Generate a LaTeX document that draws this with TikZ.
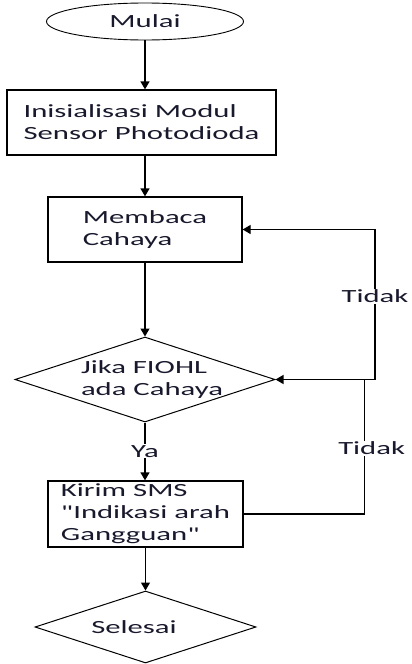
\documentclass[tikz,border=0pt]{standalone}
\usepackage{fontspec}
\setmainfont{Carlito}[FakeStretch=1.65,Ligatures=TeXOff]
\usepackage{xcolor}
\usetikzlibrary{arrows.meta,shapes.geometric}
\definecolor{teks}{RGB}{25,25,45}

\begin{document}
\begin{tikzpicture}[x=1pt,y=-1pt,
  every node/.style={font=\fontsize{18.6}{22}\selectfont,text=teks},
  terminal/.style={ellipse,draw,line width=0.9pt,minimum width=197pt,minimum height=37pt,inner sep=0pt},
  proses/.style={rectangle,draw,line width=1.3pt,align=left,minimum height=65pt,inner sep=0pt},
  keputusan/.style={diamond,draw,line width=1pt,inner sep=0pt},
  alir/.style={line width=1.3pt,-{Triangle[length=8pt,width=9pt]}},
  garis/.style={line width=1.3pt},
  ket/.style={fill=white,inner sep=1pt}]
  \useasboundingbox (0,0) rectangle (412,664);
  % urutan proses
  \node[terminal] (mulai) at (145,21.5) {Mulai};
  \node[proses,minimum width=269pt] (init) at (141.5,122.5) {Inisialisasi Modul\\Sensor Photodioda};
  \node[proses,minimum width=194pt] (baca) at (145,229.5) {Membaca\\Cahaya};
  \node[keputusan,minimum width=260pt,minimum height=85pt,
    label={[xshift=7pt,align=left]center:Jika FIOHL\\ada Cahaya}] (cek) at (145,379.5) {};
  \node[proses,minimum width=195pt,minimum height=66pt] (kirim) at (145.5,514) {Kirim SMS\\"Indikasi arah\\Gangguan"};
  \node[keputusan,minimum width=221pt,minimum height=72pt,
    label={[xshift=-11.5pt]center:Selesai}] (selesai) at (145.5,627) {};
  % panah utama
  \draw[alir] (mulai.south) -- (mulai.south |- init.north);
  \draw[alir] (init.south -| baca.north) -- (baca.north);
  \draw[alir] (baca.south) -- (cek.north);
  \draw[alir] (cek.south) -- (cek.south |- kirim.north) node[ket,midway]{Ya};
  \draw[alir] (kirim.south) -- (selesai.north);
  % jalur kembali
  \draw[alir] (kirim.east) -- ++(121,0) |- (cek.east) node[ket,pos=0.245,xshift=7pt]{Tidak};
  \coordinate (balik) at (375,379.5);
  \draw[garis] (cek.east) -- (balik);
  \draw[alir] (balik) |- (baca.east) node[ket,pos=0.278]{Tidak};
\end{tikzpicture}
\end{document}
